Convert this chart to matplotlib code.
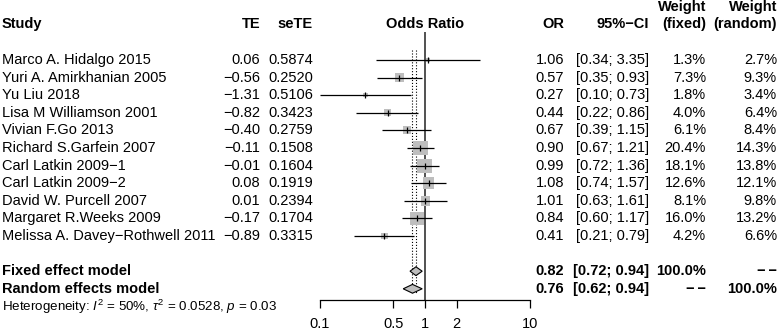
import matplotlib
matplotlib.use("Agg")
import matplotlib.pyplot as plt
from matplotlib.transforms import blended_transform_factory
import numpy as np

plt.rcParams['font.family'] = ['Liberation Sans', 'DejaVu Sans']
plt.rcParams['mathtext.fontset'] = 'custom'
plt.rcParams['mathtext.rm'] = 'Liberation Sans'
plt.rcParams['mathtext.it'] = 'Liberation Sans:italic'

studies = ["Marco A. Hidalgo 2015", "Yuri A. Amirkhanian 2005", "Yu Liu 2018",
           "Lisa M Williamson 2001", "Vivian F.Go 2013", "Richard S.Garfein 2007",
           "Carl Latkin 2009\u22121", "Carl Latkin 2009\u22122", "David W. Purcell 2007",
           "Margaret R.Weeks 2009", "Melissa A. Davey\u2212Rothwell 2011"]
te = [0.06, -0.56, -1.31, -0.82, -0.40, -0.11, -0.01, 0.08, 0.01, -0.17, -0.89]
sete = [0.5874, 0.2520, 0.5106, 0.3423, 0.2759, 0.1508, 0.1604, 0.1919, 0.2394, 0.1704, 0.3315]
odds = [1.06, 0.57, 0.27, 0.44, 0.67, 0.90, 0.99, 1.08, 1.01, 0.84, 0.41]
lower = [0.34, 0.35, 0.10, 0.22, 0.39, 0.67, 0.72, 0.74, 0.63, 0.60, 0.21]
upper = [3.35, 0.93, 0.73, 0.86, 1.15, 1.21, 1.36, 1.57, 1.61, 1.17, 0.79]
w_fixed = [1.3, 7.3, 1.8, 4.0, 6.1, 20.4, 18.1, 12.6, 8.1, 16.0, 4.2]
w_random = [2.7, 9.3, 3.4, 6.4, 8.4, 14.3, 13.8, 12.1, 9.8, 13.2, 6.6]

models = ["Fixed effect model", "Random effects model"]
m_or = [0.82, 0.76]
m_lower = [0.72, 0.62]
m_upper = [0.94, 0.94]
dash = "\u2212\u2009\u2212"
m_wf = ["100.0%", dash]
m_wr = [dash, "100.0%"]

ticks = [0.1, 0.5, 1, 2, 10]

W, H = 778, 331
fig = plt.figure(figsize=(W / 100, H / 100), dpi=100)

# forest panel: rows map to pixel 60 + (r-1)*17.6
step = 17.6
def row_of(py):
    return 1 + (py - 60) / step

top_px, bot_px = 32, 300
ax = fig.add_axes([320 / W, (H - bot_px) / H, 210 / W, (bot_px - top_px) / H])
ax.set_xscale('log')
ax.set_xlim(0.1, 10)
ax.set_ylim(row_of(bot_px), row_of(top_px))

rows = np.arange(1, len(studies) + 1)
mrows = [13, 14]

ax.scatter(odds, rows, marker='s', s=[5.7 * w for w in w_fixed], c='#bebebe',
           linewidths=0, zorder=2)
ax.hlines(rows, lower, upper, color='black', lw=0.9, zorder=3)
ax.plot(odds, rows, linestyle='none', marker='|', color='black', ms=4, mew=0.9, zorder=4)

for r, est, lo, hi in zip(mrows, m_or, m_lower, m_upper):
    h = 0.25
    ax.fill([lo, est, hi, est, lo], [r, r - h, r, r + h, r], facecolor='#bebebe',
            edgecolor='black', lw=0.8, zorder=3)

ax.axvline(1, color='#333333', lw=1.2, zorder=1)
ax.vlines(m_or, row_of(50), row_of(294), colors='black', linestyles=':', lw=0.8, zorder=1)

for s in ['top', 'right', 'left']:
    ax.spines[s].set_visible(False)
ax.spines['bottom'].set_bounds(0.1, 10)
ax.spines['bottom'].set_linewidth(0.9)
ax.set_yticks([])
ax.set_xticks(ticks)
ax.set_xticklabels([str(t) for t in ticks])
ax.minorticks_off()
ax.tick_params(axis='x', length=6, width=0.9, pad=6, labelsize=10.5)

tr = blended_transform_factory(fig.transFigure, ax.transData)
fs = 10.5

def put(px, r, s, ha='right', bold=False, size=fs):
    ax.text(px / W, r, s, transform=tr, ha=ha, va='center', fontsize=size,
            fontweight='bold' if bold else 'normal', clip_on=False)

def num(v, fmt):
    return format(v, fmt).replace('-', '\u2212')

# headers
hr = row_of(24)
put(2, hr, "Study", ha='left', bold=True)
put(260, hr, "TE", bold=True)
put(313, hr, "seTE", bold=True)
put(425, hr, "Odds Ratio", ha='center', bold=True)
put(564, hr, "OR", bold=True)
put(649, hr, "95%\u2212CI", bold=True)
put(706, hr, "(fixed)", bold=True)
put(777, hr, "(random)", bold=True)
put(706, row_of(7), "Weight", bold=True)
put(777, row_of(7), "Weight", bold=True)

for i, r in enumerate(rows):
    put(2, r, studies[i], ha='left')
    put(260, r, num(te[i], '.2f'))
    put(313, r, num(sete[i], '.4f'))
    put(564, r, num(odds[i], '.2f'))
    put(649, r, "[%.2f; %.2f]" % (lower[i], upper[i]))
    put(706, r, "%.1f%%" % w_fixed[i])
    put(777, r, "%.1f%%" % w_random[i])

for j, r in enumerate(mrows):
    put(2, r, models[j], ha='left', bold=True)
    put(564, r, "%.2f" % m_or[j], bold=True)
    put(649, r, "[%.2f; %.2f]" % (m_lower[j], m_upper[j]), bold=True)
    put(706, r, m_wf[j], bold=True)
    put(777, r, m_wr[j], bold=True)

put(2, 15, r"Heterogeneity: $I^2$ = 50%, $\tau^2$ = 0.0528, $p$ = 0.03", ha='left', size=9.6)

fig.savefig("out.png", dpi=100)
